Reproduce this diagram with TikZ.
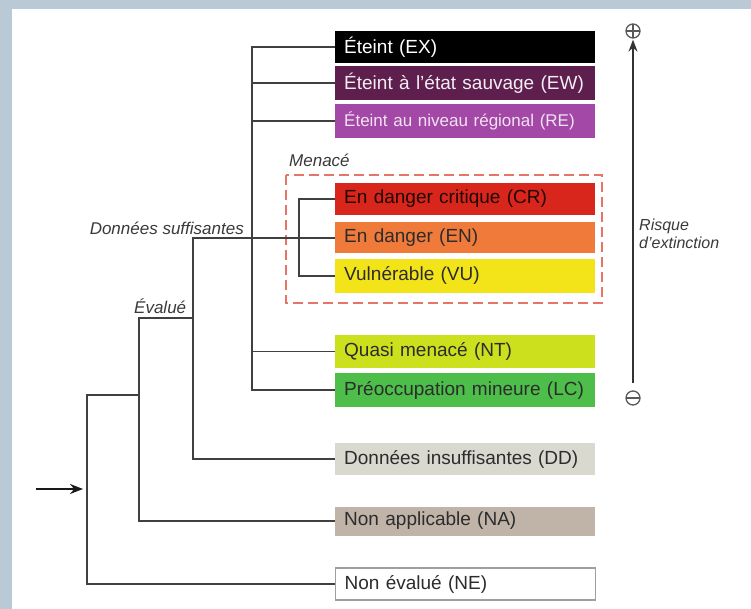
\documentclass[tikz,border=0pt]{standalone}
\usepackage{fontspec}
\setmainfont{Liberation Sans}
\usetikzlibrary{positioning, arrows.meta}
\definecolor{frameBlue}{HTML}{B9C9D5}
\definecolor{linkGray}{HTML}{404040}
\definecolor{labGray}{HTML}{3A3A3A}
\definecolor{catText}{HTML}{2C2C2C}
\definecolor{ewFill}{HTML}{5E1F4F}
\definecolor{reFill}{HTML}{A348A6}
\definecolor{crFill}{HTML}{D9261C}
\definecolor{enFill}{HTML}{F07A3A}
\definecolor{vuFill}{HTML}{F3E41A}
\definecolor{ntFill}{HTML}{CCE01E}
\definecolor{lcFill}{HTML}{4DBE4A}
\definecolor{ddFill}{HTML}{D9D9CF}
\definecolor{naFill}{HTML}{C0B3A8}
\definecolor{dashRed}{HTML}{E87468}

\begin{document}
\begin{tikzpicture}[x=1pt, y=-1pt,
  cat/.style={anchor=west, minimum height=33pt, text width=242pt, inner xsep=9pt, inner ysep=0pt, align=left, font=\fontsize{19}{22}\selectfont, text=catText},
  link/.style={draw=linkGray, line width=1.9pt},
  lab/.style={font=\fontsize{17}{19}\selectfont\itshape, text=labGray, inner sep=0pt},
  sign/.style={circle, draw=gray!70!black, line width=1.3pt, minimum size=14pt, inner sep=0pt}]
  \useasboundingbox (0,0) rectangle (751,609);
  \fill[frameBlue] (0,0) rectangle (751,609);
  \fill[white] (12,9) rectangle (751,609);

  \node[cat, fill=black, text=white, minimum height=32pt] (ex) at (335,47) {Éteint (EX)};
  \node[cat, fill=ewFill, text=white!92!ewFill, minimum height=34pt] (ew) [below=3pt of ex] {Éteint à l'état sauvage (EW)};
  \node[cat, fill=reFill, text=white!85!reFill, minimum height=34pt, font=\fontsize{17}{20}\selectfont] (re) [below=3pt of ew] {Éteint au niveau régional (RE)};
  \node[cat, fill=crFill, text=black!85!crFill, minimum height=32pt] (cr) at (335,199) {En danger critique (CR)};
  \node[cat, fill=enFill, minimum height=31pt] (en) [below=7pt of cr] {En danger (EN)};
  \node[cat, fill=vuFill, minimum height=34pt] (vu) [below=5pt of en] {Vulnérable (VU)};
  \node[cat, fill=ntFill] (nt) at (335,351.5) {Quasi menacé (NT)};
  \node[cat, fill=lcFill, minimum height=34pt] (lc) [below=5pt of nt] {Préoccupation mineure (LC)};
  \node[cat, fill=ddFill, minimum height=32pt] (dd) at (335,459) {Données insuffisantes (DD)};
  \node[cat, fill=naFill, minimum height=29pt] (na) at (335,521) {Non applicable (NA)};
  \node[cat, fill=white, draw=gray!75, line width=1.2pt, minimum height=32pt] (ne) at (335,584) {Non évalué (NE)};

  \draw[dashRed, line width=1.6pt, dash pattern=on 10pt off 5pt] (286,175) rectangle (602,303);
  \node[lab, anchor=west] (menace) at (289,160) {Menacé};
  \node[lab, anchor=east] (suff) at (244,228) {Données suffisantes};
  \node[lab, anchor=west] (evalue) at (134,306) {Évalué};

  \coordinate (sp) at (252,0);
  \coordinate (mp) at (299,0);
  \coordinate (dp) at (193,0);
  \coordinate (ev) at (139,318);
  \coordinate (rt) at (87,395);
  \coordinate (in) at (36,489);

  \draw[link] (ex.west) -- (ex.west -| sp) -- (lc.west -| sp) -- (lc.west);
  \foreach \n in {ew, re, nt} \draw[link] (\n.west) -- (\n.west -| sp);
  \draw[link] (cr.west) -- (cr.west -| mp) -- (vu.west -| mp) -- (vu.west);
  \draw[link] (en.west) -- (en.west -| dp) -- (dd.west -| dp) -- (dd.west);
  \draw[link] (ev -| dp) -- (ev) -- (na.west -| ev) -- (na.west);
  \draw[link] (rt -| ev) -- (rt) -- (ne.west -| rt) -- (ne.west);
  \draw[link, draw=black!90, -{Stealth[length=13pt, width=10pt]}, shorten >=4pt] (in) -- (in -| rt);

  \node[sign, path picture={\draw[gray!70!black, line width=1.2pt] (path picture bounding box.west) -- (path picture bounding box.east) (path picture bounding box.north) -- (path picture bounding box.south);}] (plus) at (633,31) {};
  \node[sign, path picture={\draw[gray!70!black, line width=1.2pt] (path picture bounding box.west) -- (path picture bounding box.east);}] (minus) at (633,398) {};
  \draw[draw=gray!40!black, line width=1.5pt, -{Stealth[length=12pt, width=9pt]}, shorten <=7pt, shorten >=1pt] (minus) -- (plus);
  \node[lab, anchor=west, align=left, font=\fontsize{16}{18}\selectfont\itshape] (risque) at (639,234) {Risque\\d'extinction};
\end{tikzpicture}
\end{document}
